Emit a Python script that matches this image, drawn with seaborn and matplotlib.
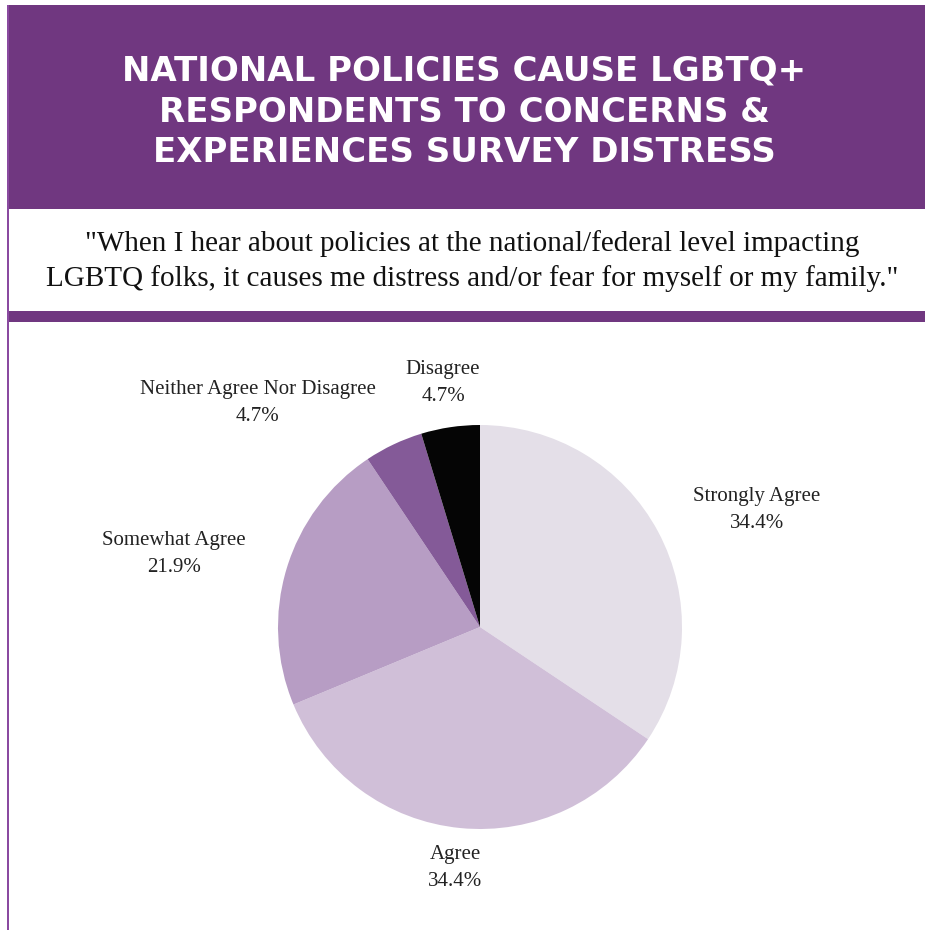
import matplotlib
matplotlib.use("Agg")
import matplotlib.pyplot as plt
from matplotlib.patches import Rectangle
import seaborn as sns

# ---- data ----
categories = ["Strongly Agree", "Agree", "Somewhat Agree",
              "Neither Agree Nor Disagree", "Disagree"]
percentages = [34.4, 34.4, 21.9, 4.7, 4.7]
colors = ["#e4dfe8", "#d0bfd8", "#b79dc4", "#845a98", "#050505"]

title = "NATIONAL POLICIES CAUSE LGBTQ+\nRESPONDENTS TO CONCERNS &\nEXPERIENCES SURVEY DISTRESS"
subtitle = ('"When I hear about policies at the national/federal level impacting\n'
            'LGBTQ folks, it causes me distress and/or fear for myself or my family."')

# ---- style / layout ----
sns.set_theme(style="white")
sns.set_palette(colors)
plt.rcParams["font.family"] = ["Liberation Serif", "DejaVu Serif"]

W, H = 925, 930
PURPLE = "#703780"
fig = plt.figure(figsize=(W / 100, H / 100), dpi=100)
fig.patch.set_facecolor("white")

bg = fig.add_axes([0, 0, 1, 1])
bg.set_xlim(0, W)
bg.set_ylim(H, 0)
bg.axis("off")

# header banner
bg.add_patch(Rectangle((7, 5), W - 7, 204, color=PURPLE, lw=0))
# divider bar
bg.add_patch(Rectangle((7, 311), W - 7, 11, color=PURPLE, lw=0))
# left thin border
bg.add_patch(Rectangle((7, 5), 1.6, H, color="#8a4aa0", lw=0))

bg.text(464, 112, title, ha="center", va="center", color="white",
        fontsize=24.5, fontweight="bold", family=["DejaVu Sans"],
        linespacing=1.3)
bg.text(472, 261, subtitle, ha="center", va="center", color="#111111",
        fontsize=21, linespacing=1.39)

# pie axes: center (480, 627), radius 202 px
cx, cy, r = 480, 627, 202
pie_ax = fig.add_axes([(cx - r) / W, (H - cy - r) / H, 2 * r / W, 2 * r / H])
pie_ax.pie(percentages, colors=colors, startangle=90, counterclock=False,
           wedgeprops=dict(linewidth=0))
pie_ax.set_xlim(-1, 1)
pie_ax.set_ylim(-1, 1)
pie_ax.set_aspect("auto")
pie_ax.axis("off")

# label anchor positions (pixels)
label_xy = [(757, 510), (455, 868), (174, 554), (258, 403), (443, 383)]
for cat, pct, (lx, ly) in zip(categories, percentages, label_xy):
    bg.text(lx, ly, f"{cat}\n{pct:.1f}%", ha="center", va="center",
            color="#222222", fontsize=15, linespacing=1.55,
            multialignment="center")

fig.savefig("out.png", dpi=100, facecolor="white")
